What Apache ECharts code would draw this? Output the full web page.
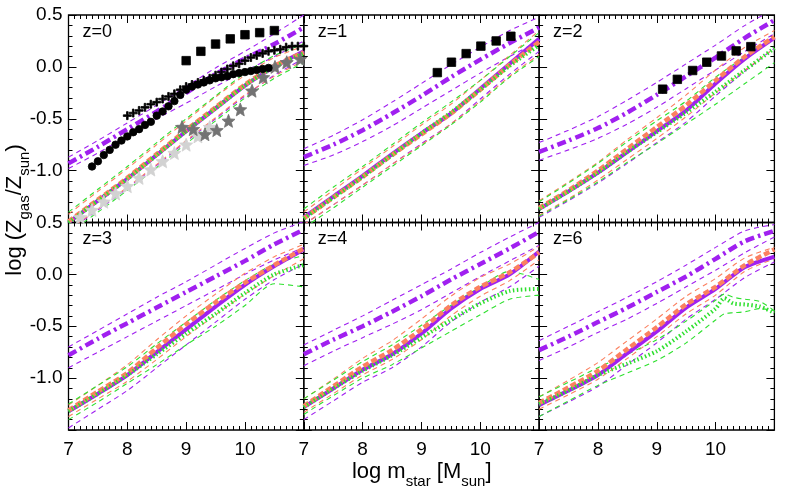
<!DOCTYPE html>
<html><head><meta charset="utf-8">
<script src="https://cdn.jsdelivr.net/npm/echarts@6/dist/echarts.min.js"></script>
<style>html,body{margin:0;padding:0;background:#fff}#c{width:789px;height:491px}</style>
</head><body><div id="c"></div>
<script>
// ---------- shared grids / ticks ----------
const xGrid = [7, 7.5, 8, 8.5, 9, 9.5, 10, 10.5, 11];
const xGridFine = [7, 7.5, 8, 8.5, 9, 9.5, 10, 10.15, 10.3, 10.5, 10.75, 11];
const xTickLabels = [7, 8, 9, 10];
const yTickLabels = [0.5, 0.0, -0.5, -1.0];
const panelLabels = ['z=0', 'z=1', 'z=2', 'z=3', 'z=4', 'z=6'];

// ---------- z=0 ----------
const z0_ddot    = [-0.93,-0.77,-0.60,-0.43,-0.25,-0.07,0.08,0.22,0.38];
const z0_ddot_hi = [-0.87,-0.71,-0.54,-0.37,-0.19,-0.01,0.15,0.32,0.50];
const z0_ddot_lo = [-0.98,-0.83,-0.67,-0.50,-0.35,-0.19,-0.04,0.10,0.25];
const z0_solid   = [-1.50,-1.29,-1.08,-0.85,-0.62,-0.40,-0.18,0.00,0.15];
const z0_solid_lo= [-1.58,-1.38,-1.17,-0.95,-0.72,-0.50,-0.28,-0.08,0.08];
const z0_orange  = [-1.49,-1.28,-1.07,-0.84,-0.61,-0.39,-0.17,0.01,0.14];
const z0_orange_hi=[-1.42,-1.20,-0.98,-0.75,-0.52,-0.29,-0.08,0.09,0.20];
const z0_orange_lo=[-1.57,-1.37,-1.16,-0.94,-0.71,-0.49,-0.27,-0.09,0.06];
const z0_green   = [-1.50,-1.29,-1.08,-0.85,-0.62,-0.40,-0.18,0.00,0.13];
const z0_green_hi= [-1.40,-1.18,-0.96,-0.73,-0.50,-0.28,-0.06,0.11,0.22];
const z0_green_lo= [-1.60,-1.40,-1.19,-0.97,-0.74,-0.52,-0.30,-0.11,0.04];

// z=0 observational points
const sq0x = [9.0,9.25,9.5,9.75,10.0,10.25,10.5];
const sq0y = [0.06,0.15,0.22,0.27,0.31,0.33,0.35];
const plus0x = [8.0,8.1,8.2,8.3,8.4,8.5,8.6,8.7,8.8,8.9,9.0,9.1,9.2,9.3,9.4,9.5,9.6,9.7,9.8,9.9,10.0,10.1,10.2,10.3,10.4,10.5,10.6,10.7,10.8,10.9,11.0];
const plus0y = [-0.47,-0.445,-0.42,-0.39,-0.36,-0.34,-0.31,-0.285,-0.26,-0.22,-0.19,-0.17,-0.15,-0.13,-0.11,-0.08,-0.05,-0.02,0.01,0.03,0.06,0.09,0.11,0.13,0.15,0.16,0.17,0.19,0.20,0.20,0.20];
const circ0x = [7.4,7.5,7.6,7.7,7.8,7.9,8.0,8.1,8.2,8.3,8.4,8.5,8.6,8.7,8.8,8.9,9.0,9.1,9.2,9.3,9.4,9.5,9.6,9.7,9.8,9.9,10.0,10.1,10.2,10.3,10.4];
const circ0y = [-0.96,-0.91,-0.85,-0.80,-0.75,-0.71,-0.67,-0.63,-0.60,-0.56,-0.53,-0.47,-0.43,-0.38,-0.33,-0.27,-0.22,-0.19,-0.17,-0.15,-0.13,-0.11,-0.10,-0.09,-0.07,-0.06,-0.05,-0.04,-0.03,-0.02,-0.01];
const starDark0x = [8.93,9.12,9.32,9.52,9.72,9.92,10.12,10.31,10.51,10.71,10.94];
const starDark0y = [-0.58,-0.60,-0.65,-0.61,-0.52,-0.41,-0.23,-0.10,0.00,0.045,0.075];
const starLight0x = [7.2,7.4,7.6,7.8,8.0,8.2,8.4,8.6,8.8,9.0,9.2,9.4];
const starLight0y = [-1.45,-1.38,-1.30,-1.22,-1.15,-1.07,-0.99,-0.91,-0.83,-0.75,-0.67,-0.58];

// ---------- z=1 ----------
const z1_ddot    = [-0.87,-0.75,-0.61,-0.45,-0.28,-0.10,0.07,0.23,0.38];
const z1_ddot_hi = [-0.79,-0.66,-0.51,-0.34,-0.16,0.02,0.19,0.35,0.48];
const z1_ddot_lo = [-0.95,-0.85,-0.72,-0.57,-0.40,-0.23,-0.06,0.10,0.25];
const z1_solid   = [-1.45,-1.25,-1.05,-0.84,-0.64,-0.45,-0.21,0.03,0.27];
const z1_solid_lo= [-1.52,-1.33,-1.14,-0.94,-0.74,-0.55,-0.31,-0.07,0.15];
const z1_orange  = [-1.46,-1.26,-1.06,-0.85,-0.65,-0.45,-0.22,0.02,0.24];
const z1_orange_hi=[-1.40,-1.19,-0.98,-0.77,-0.56,-0.36,-0.13,0.11,0.35];
const z1_orange_lo=[-1.52,-1.33,-1.14,-0.94,-0.75,-0.55,-0.33,-0.09,0.12];
const z1_green   = [-1.46,-1.26,-1.06,-0.85,-0.64,-0.44,-0.22,0.01,0.21];
const z1_green_hi= [-1.37,-1.16,-0.96,-0.75,-0.54,-0.34,-0.13,0.10,0.33];
const z1_green_lo= [-1.55,-1.36,-1.16,-0.96,-0.76,-0.56,-0.34,-0.10,0.10];
const sq1x = [9.27,9.51,9.76,10.01,10.27,10.52];
const sq1y = [-0.055,0.045,0.128,0.20,0.25,0.295];

// ---------- z=2 ----------
const z2_ddot    = [-0.82,-0.71,-0.59,-0.44,-0.27,-0.09,0.09,0.28,0.45];
const z2_ddot_hi = [-0.73,-0.61,-0.48,-0.32,-0.15,0.03,0.21,0.40,0.56];
const z2_ddot_lo = [-0.90,-0.80,-0.69,-0.55,-0.39,-0.21,-0.03,0.15,0.32];
const z2_solid   = [-1.37,-1.20,-1.02,-0.82,-0.62,-0.42,-0.16,0.08,0.28];
const z2_solid_lo= [-1.45,-1.29,-1.12,-0.93,-0.73,-0.53,-0.28,-0.04,0.18];
const z2_orange  = [-1.36,-1.19,-1.00,-0.79,-0.58,-0.37,-0.13,0.10,0.29];
const z2_orange_hi=[-1.29,-1.11,-0.92,-0.70,-0.49,-0.27,-0.03,0.19,0.35];
const z2_orange_lo=[-1.43,-1.27,-1.09,-0.89,-0.69,-0.48,-0.25,-0.03,0.18];
const z2_green   = [-1.37,-1.20,-1.02,-0.82,-0.63,-0.44,-0.24,-0.03,0.18];
const z2_green_hi= [-1.30,-1.12,-0.93,-0.72,-0.52,-0.33,-0.10,0.10,0.27];
const z2_green_lo= [-1.44,-1.28,-1.11,-0.92,-0.74,-0.55,-0.36,-0.16,0.04];
const sq2x = [9.1,9.35,9.61,9.85,10.1,10.35,10.6];
const sq2y = [-0.215,-0.12,-0.035,0.045,0.105,0.154,0.195];

// ---------- z=3 ----------
const z3_ddot    = [-0.78,-0.62,-0.47,-0.32,-0.17,-0.02,0.13,0.29,0.43];
const z3_ddot_hi = [-0.70,-0.54,-0.38,-0.22,-0.07,0.09,0.25,0.40,0.51];
const z3_ddot_lo = [-0.90,-0.75,-0.60,-0.45,-0.30,-0.15,0.00,0.14,0.26];
const z3_solid   = [-1.32,-1.15,-0.97,-0.75,-0.53,-0.31,-0.10,0.08,0.24];
const z3_solid_lo= [-1.48,-1.30,-1.12,-0.90,-0.68,-0.46,-0.24,-0.05,0.10];
const z3_orange  = [-1.31,-1.13,-0.95,-0.71,-0.48,-0.27,-0.08,0.09,0.25];
const z3_orange_hi=[-1.26,-1.07,-0.87,-0.63,-0.40,-0.19,0.01,0.17,0.29];
const z3_orange_lo=[-1.37,-1.20,-1.03,-0.82,-0.60,-0.39,-0.19,-0.01,0.15];
const z3_green   = [-1.32,-1.15,-0.97,-0.77,-0.57,-0.38,-0.18,0.00,0.09];
const z3_green_hi= [-1.25,-1.07,-0.89,-0.67,-0.46,-0.25,-0.06,0.10,0.18];
const z3_green_lo= [-1.40,-1.23,-1.05,-0.87,-0.68,-0.50,-0.30,-0.09,-0.12];

// ---------- z=4 ----------
const z4_ddot    = [-0.77,-0.63,-0.50,-0.36,-0.21,-0.05,0.10,0.25,0.41];
const z4_ddot_hi = [-0.68,-0.54,-0.40,-0.25,-0.10,0.05,0.21,0.36,0.50];
const z4_ddot_lo = [-0.88,-0.74,-0.61,-0.48,-0.34,-0.18,-0.02,0.13,0.28];
const z4_solid   = [-1.28,-1.10,-0.92,-0.77,-0.57,-0.33,-0.14,0.00,0.22];
const z4_solid_lo= [-1.40,-1.22,-1.04,-0.90,-0.70,-0.46,-0.27,-0.12,0.08];
const z4_orange  = [-1.27,-1.08,-0.89,-0.73,-0.53,-0.30,-0.12,0.02,0.21];
const z4_orange_hi=[-1.20,-1.01,-0.81,-0.64,-0.43,-0.21,-0.03,0.10,0.27];
const z4_orange_lo=[-1.33,-1.15,-0.97,-0.82,-0.63,-0.40,-0.21,-0.06,0.14];
const z4_green   = [-1.28,-1.10,-0.93,-0.78,-0.61,-0.44,-0.28,-0.16,-0.14];
const z4_green_hi= [-1.20,-1.02,-0.84,-0.68,-0.49,-0.30,-0.12,0.03,-0.05];
const z4_green_lo= [-1.35,-1.17,-1.00,-0.87,-0.71,-0.55,-0.39,-0.24,-0.20];

// ---------- z=6 ----------
const z6_ddot    = [-0.73,-0.60,-0.46,-0.32,-0.17,-0.02,0.15,0.32,0.42];
const z6_ddot_hi = [-0.64,-0.50,-0.36,-0.22,-0.07,0.09,0.26,0.42,0.48];
const z6_ddot_lo = [-0.83,-0.70,-0.56,-0.43,-0.28,-0.12,0.04,0.21,0.36];
const z6_solid   = [-1.26,-1.12,-0.97,-0.76,-0.55,-0.32,-0.14,0.07,0.17];
const z6_solid_lo= [-1.37,-1.23,-1.08,-0.87,-0.66,-0.43,-0.24,-0.03,0.12];
const z6_orange  = [-1.24,-1.09,-0.93,-0.72,-0.51,-0.29,-0.12,0.09,0.24];
const z6_orange_hi=[-1.18,-1.02,-0.85,-0.64,-0.43,-0.21,-0.04,0.16,0.26];
const z6_orange_lo=[-1.30,-1.16,-1.01,-0.81,-0.60,-0.38,-0.20,0.03,0.15];
// z=6 green curves on the finer grid
const z6_green   = [-1.25,-1.12,-0.97,-0.86,-0.74,-0.55,-0.33,-0.23,-0.28,-0.29,-0.31,-0.37];
const z6_green_hi= [-1.18,-1.04,-0.90,-0.77,-0.63,-0.45,-0.25,-0.19,-0.22,-0.24,-0.26,-0.35];
const z6_green_lo= [-1.37,-1.22,-1.07,-0.95,-0.83,-0.66,-0.44,-0.38,-0.37,-0.36,-0.33,-0.35];

// ---------- assemble ----------
const panels = [
  {ddot:z0_ddot, hi:z0_ddot_hi, lo:z0_ddot_lo, solid:z0_solid, solidLo:z0_solid_lo, orange:z0_orange, oHi:z0_orange_hi, oLo:z0_orange_lo, green:z0_green, gHi:z0_green_hi, gLo:z0_green_lo, gx:xGrid},
  {ddot:z1_ddot, hi:z1_ddot_hi, lo:z1_ddot_lo, solid:z1_solid, solidLo:z1_solid_lo, orange:z1_orange, oHi:z1_orange_hi, oLo:z1_orange_lo, green:z1_green, gHi:z1_green_hi, gLo:z1_green_lo, gx:xGrid},
  {ddot:z2_ddot, hi:z2_ddot_hi, lo:z2_ddot_lo, solid:z2_solid, solidLo:z2_solid_lo, orange:z2_orange, oHi:z2_orange_hi, oLo:z2_orange_lo, green:z2_green, gHi:z2_green_hi, gLo:z2_green_lo, gx:xGrid},
  {ddot:z3_ddot, hi:z3_ddot_hi, lo:z3_ddot_lo, solid:z3_solid, solidLo:z3_solid_lo, orange:z3_orange, oHi:z3_orange_hi, oLo:z3_orange_lo, green:z3_green, gHi:z3_green_hi, gLo:z3_green_lo, gx:xGrid},
  {ddot:z4_ddot, hi:z4_ddot_hi, lo:z4_ddot_lo, solid:z4_solid, solidLo:z4_solid_lo, orange:z4_orange, oHi:z4_orange_hi, oLo:z4_orange_lo, green:z4_green, gHi:z4_green_hi, gLo:z4_green_lo, gx:xGrid},
  {ddot:z6_ddot, hi:z6_ddot_hi, lo:z6_ddot_lo, solid:z6_solid, solidLo:z6_solid_lo, orange:z6_orange, oHi:z6_orange_hi, oLo:z6_orange_lo, green:z6_green, gHi:z6_green_hi, gLo:z6_green_lo, gx:xGridFine}
];

const PURPLE = '#a020f0', ORANGE = '#fb8060', GREEN = '#2fe02f';
const FONT = 'Liberation Sans, Helvetica, Arial, sans-serif';
const L = 68.5, T = 15, W = 235.3, H = 207.5;

const pair = (xs, ys) => xs.map((x, i) => [x, ys[i]]);
const grids = [], xAxes = [], yAxes = [], series = [], graphics = [];

panels.forEach((pn, p) => {
  const r = Math.floor(p / 3), c = p % 3;
  grids.push({left: L + c * W, top: T + r * H, width: W, height: H, show: true,
    borderColor: '#000', borderWidth: 1.3, backgroundColor: 'rgba(0,0,0,0)'});
  const tick = {show: true, inside: true, length: 8, lineStyle: {color: '#000', width: 1}};
  const minorX = {show: true, splitNumber: 10, length: 4, lineStyle: {color: '#000', width: 1}};
  const minorY = {show: true, splitNumber: 5, length: 4, lineStyle: {color: '#000', width: 1}};
  const xBase = {type: 'value', gridIndex: p, min: 7, max: 11, interval: 1,
    axisLine: {show: false, onZero: false}, splitLine: {show: false}, axisTick: tick, minorTick: minorX};
  xAxes.push(Object.assign({}, xBase, {position: 'bottom',
    axisLabel: {show: r === 1, fontSize: 19, color: '#000', fontFamily: FONT, margin: 10,
      showMinLabel: true, showMaxLabel: true,
      formatter: v => xTickLabels.indexOf(v) >= 0 ? String(v) : ''}}));
  xAxes.push(Object.assign({}, xBase, {position: 'top', axisLabel: {show: false}}));
  const yBase = {type: 'value', gridIndex: p, min: -1.5, max: 0.5, interval: 0.5,
    axisLine: {show: false, onZero: false}, splitLine: {show: false}, axisTick: tick, minorTick: minorY};
  yAxes.push(Object.assign({}, yBase, {position: 'left',
    axisLabel: {show: c === 0, fontSize: 19, color: '#000', fontFamily: FONT, margin: 6,
      showMinLabel: true, showMaxLabel: true,
      formatter: v => yTickLabels.some(t => Math.abs(t - v) < 1e-9) ? v.toFixed(1) : ''}}));
  yAxes.push(Object.assign({}, yBase, {position: 'right', axisLabel: {show: false}}));

  const ax = {xAxisIndex: 2 * p, yAxisIndex: 2 * p};
  const line = (xs, ys, color, width, type, z) => Object.assign({type: 'line', data: pair(xs, ys),
    symbol: 'none', showSymbol: false, smooth: 0.25, silent: true, z: z,
    lineStyle: {color: color, width: width, type: type, cap: 'butt', opacity: 1}}, ax);
  // thin dashed bands
  series.push(line(xGrid, pn.hi, PURPLE, 1.1, [5, 4], 2));
  series.push(line(xGrid, pn.lo, PURPLE, 1.1, [5, 4], 2));
  series.push(line(xGrid, pn.solidLo, PURPLE, 1.1, [5, 4], 2));
  series.push(line(xGrid, pn.oHi, ORANGE, 1.1, [5, 4], 2));
  series.push(line(xGrid, pn.oLo, ORANGE, 1.1, [5, 4], 2));
  series.push(line(pn.gx, pn.gHi, GREEN, 1.1, [5, 4], 2));
  series.push(line(pn.gx, pn.gLo, GREEN, 1.1, [5, 4], 2));
  // thick lines
  series.push(line(xGrid, pn.ddot, PURPLE, 4.5, [9, 4, 2.5, 4], 3));
  series.push(line(xGrid, pn.solid, PURPLE, 4, 'solid', 3));
  series.push(line(xGrid, pn.orange, ORANGE, 4.5, [6, 3], 4));
  series.push(line(pn.gx, pn.green, GREEN, 4, [1.5, 2.5], 5));

  graphics.push({type: 'text', left: L + c * W + 14, top: T + r * H + 8,
    style: {text: panelLabels[p], fontSize: 18, fill: '#000', fontFamily: FONT}});
});

const STAR = 'path://M10,0L12.65,6.36L19.51,6.91L14.28,11.39L15.88,18.09L10,14.5L4.12,18.09L5.72,11.39L0.49,6.91L7.35,6.36Z';
const PLUS = 'path://M4,0H6V4H10V6H6V10H4V6H0V4H4Z';
const scat = (p, xs, ys, symbol, size, color, z) => ({type: 'scatter', xAxisIndex: 2 * p, yAxisIndex: 2 * p,
  data: pair(xs, ys), symbol: symbol, symbolSize: size, silent: true, z: z,
  itemStyle: {color: color, borderColor: color, borderWidth: 0.8, opacity: 1}});
series.push(scat(0, starLight0x, starLight0y, STAR, 13, '#d2d2d2', 6));
series.push(scat(0, starDark0x, starDark0y, STAR, 13, '#737373', 6));
series.push(scat(0, circ0x, circ0y, 'circle', 7.5, '#000', 7));
series.push(scat(0, plus0x, plus0y, PLUS, 8, '#000', 7));
series.push(scat(0, sq0x, sq0y, 'rect', 8.5, '#000', 7));
series.push(scat(1, sq1x, sq1y, 'rect', 8.5, '#000', 7));
series.push(scat(2, sq2x, sq2y, 'rect', 8.5, '#000', 7));

// axis titles
const richStyle = {n: {fontSize: 22, fontFamily: FONT, fill: '#000', lineHeight: 22, verticalAlign: 'top'},
                   s: {fontSize: 15, fontFamily: FONT, fill: '#000', lineHeight: 15, verticalAlign: 'top', padding: [13, 0, 0, 0]}};
graphics.push({type: 'text', x: 15, y: 210, rotation: Math.PI / 2,
  style: {text: '{n|log (Z}{s|gas}{n|/Z}{s|sun}{n|)}', align: 'center', verticalAlign: 'middle', rich: richStyle}});
graphics.push({type: 'text', x: 421.7, y: 472,
  style: {text: '{n|log m}{s|star}{n| [M}{s|sun}{n|]}', align: 'center', verticalAlign: 'middle', rich: richStyle}});

const chart = echarts.init(document.getElementById('c'), null, {renderer: 'canvas'});
chart.setOption({animation: false, backgroundColor: '#fff', grid: grids, xAxis: xAxes, yAxis: yAxes,
  series: series, graphic: graphics});
</script></body></html>
